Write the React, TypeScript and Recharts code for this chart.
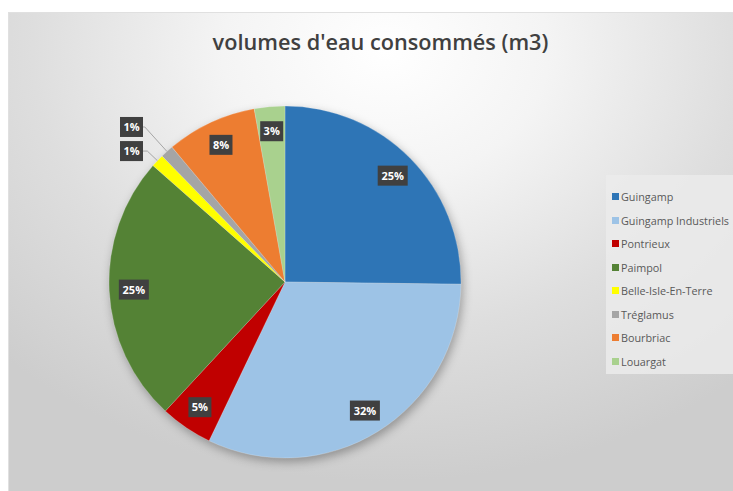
import { PieChart, Pie, Cell, Legend } from 'recharts';

const communes = [
  'Guingamp',
  'Guingamp Industriels',
  'Pontrieux',
  'Paimpol',
  'Belle-Isle-En-Terre',
  'Tréglamus',
  'Bourbriac',
  'Louargat',
];
const volumes = [25.2, 31.9, 4.8, 24.6, 1.2, 1.2, 8.3, 2.8];
const COLORS = ['#2E75B6', '#9DC3E6', '#C00000', '#548235', '#FFFF00', '#A5A5A5', '#ED7D31', '#A9D18E'];

const data = communes.map((name, i) => ({ name, value: volumes[i] }));

const RADIAN = Math.PI / 180;
const FONT = '"Open Sans", "Noto Sans", sans-serif';

const renderLabel = (props: any) => {
  const { cx, cy, midAngle, outerRadius, percent, index } = props;
  const text = `${Math.round(percent * 100)}%`;
  const w = text.length * 7 + 9;
  const h = 20;
  const cos = Math.cos(-midAngle * RADIAN);
  const sin = Math.sin(-midAngle * RADIAN);

  if (percent < 0.02) {
    // small slices: label outside with leader line
    const ext = index === 5 ? 33 : 14;
    const ex = cx + outerRadius * cos;
    const ey = cy + outerRadius * sin;
    const mx = cx + (outerRadius + ext) * cos;
    const my = cy + (outerRadius + ext) * sin;
    const bx = cx - 142;
    return (
      <g key={`lbl-${index}`}>
        <polyline points={`${ex},${ey} ${mx},${my} ${bx},${my}`} fill="none" stroke="#a6a6a6" strokeWidth={1} />
        <rect x={bx - w} y={my - h / 2} width={w} height={h} fill="#404040" />
        <text x={bx - w / 2} y={my + 4} textAnchor="middle" fill="#fff" fontSize={11} fontWeight={700} fontFamily={FONT}>
          {text}
        </text>
      </g>
    );
  }

  const r = outerRadius * 0.86;
  const x = cx + r * cos;
  const y = cy + r * sin;
  return (
    <g key={`lbl-${index}`}>
      <rect x={x - w / 2} y={y - h / 2} width={w} height={h} fill="#404040" />
      <text x={x} y={y + 4} textAnchor="middle" fill="#fff" fontSize={11} fontWeight={700} fontFamily={FONT}>
        {text}
      </text>
    </g>
  );
};

// legend keeps the data order (Recharts would sort it by name)
const renderLegend = () => (
  <div style={{ background: 'rgba(235,235,235,0.85)', padding: '10px 0 1px 6px', fontFamily: FONT }}>
    {communes.map((name, i) => (
      <div key={`leg-${i}`} style={{ display: 'flex', alignItems: 'center', height: 23.5, fontSize: 10.8, color: '#595959', whiteSpace: 'nowrap' }}>
        <span style={{ display: 'inline-block', width: 7, height: 7, background: COLORS[i], marginRight: 2 }} />
        {name}
      </div>
    ))}
  </div>
);

export default function App() {
  return (
    <div
      style={{
        position: 'absolute',
        top: 12,
        left: 8,
        width: 725,
        height: 479,
        boxSizing: 'border-box',
        borderTop: '1px solid #e0e0e0',
        borderLeft: '1px solid #e0e0e0',
        background: 'radial-gradient(ellipse 75% 90% at 52% 8%, #ffffff 0%, #f4f4f4 30%, #dedede 65%, #cdcdcd 100%)',
        overflow: 'hidden',
      }}
    >
      <style>{`.recharts-pie { filter: drop-shadow(2px 4px 5px rgba(0,0,0,0.3)); }`}</style>
      <div
        style={{
          position: 'absolute',
          top: 14,
          left: 0,
          width: 743,
          textAlign: 'center',
          fontFamily: FONT,
          fontSize: 21.7,
          fontWeight: 600,
          color: '#404040',
        }}
      >
        volumes d'eau consommés (m3)
      </div>
      <PieChart
        width={724}
        height={478}
        margin={{ top: 0, right: 0, bottom: 0, left: 0 }}
        style={{ position: 'absolute', top: 0, left: 0 }}
      >
        <Pie
          data={data}
          dataKey="value"
          nameKey="name"
          cx={276}
          cy={269}
          outerRadius={176}
          startAngle={90}
          endAngle={-270}
          stroke="rgba(255,255,255,0.4)"
          strokeWidth={0.5}
          label={renderLabel}
          labelLine={false}
          isAnimationActive={false}
        >
          {data.map((_, index) => (
            <Cell key={`cell-${index}`} fill={COLORS[index % COLORS.length]} />
          ))}
        </Pie>
        <Legend
          content={renderLegend}
          layout="vertical"
          align="right"
          verticalAlign="top"
          wrapperStyle={{ left: 597, top: 162, width: 140 }}
        />
      </PieChart>
    </div>
  );
}
